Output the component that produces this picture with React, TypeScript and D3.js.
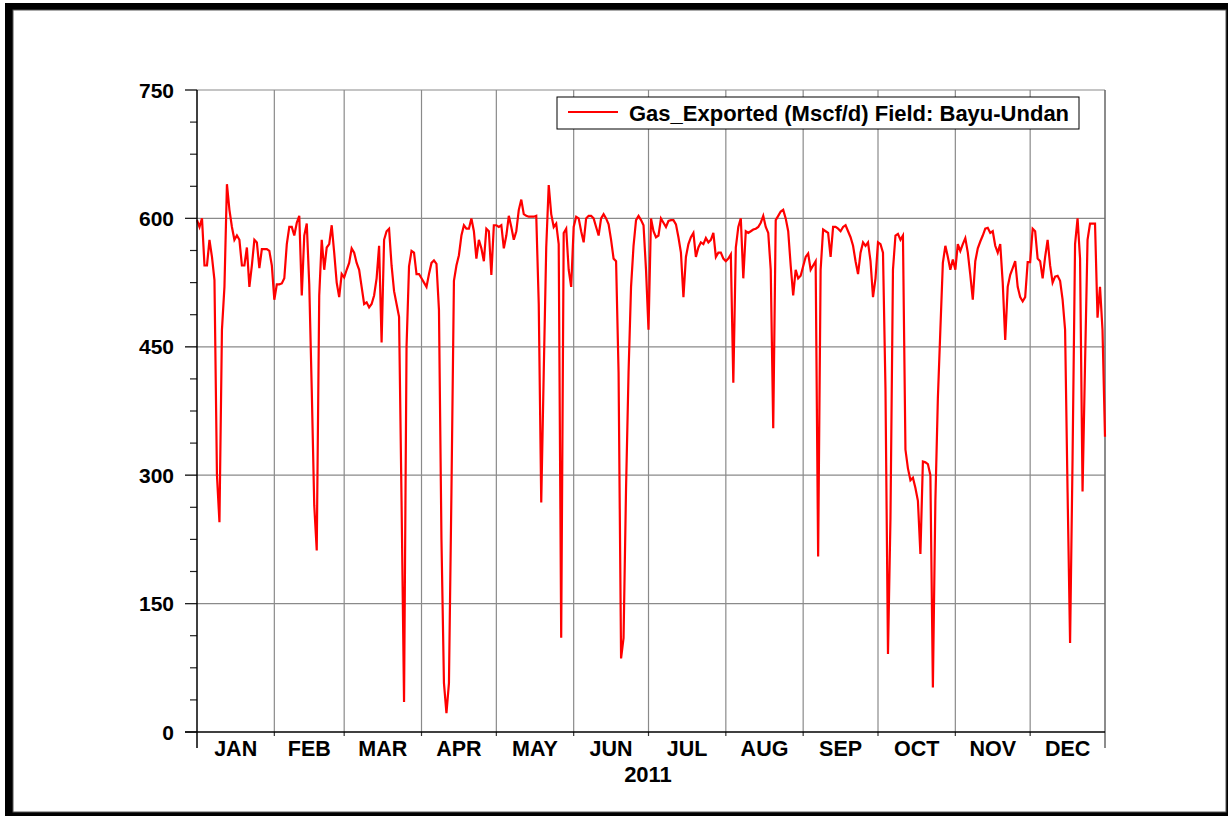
import React from "react";
import * as d3 from "d3";

// Daily Gas_Exported (Mscf/d), 2011
const gasJan = [598, 590, 600, 545, 545, 575, 555, 528, 300, 245, 470, 520, 640, 610, 590, 575, 580, 575, 545, 545, 566, 520, 545, 575, 572, 542, 564, 564, 564, 562, 545];
const gasFeb = [505, 523, 523, 524, 530, 570, 590, 590, 580, 595, 603, 510, 580, 594, 523, 400, 265, 212, 510, 575, 540, 566, 570, 592, 560, 525, 508, 535];
const gasMar = [531, 540, 548, 565, 560, 548, 540, 520, 500, 502, 496, 500, 510, 530, 568, 455, 575, 585, 588, 545, 515, 500, 485, 270, 35, 450, 544, 562, 560, 535, 535];
const gasApr = [530, 525, 520, 535, 548, 551, 547, 493, 225, 57, 22, 57, 280, 527, 545, 557, 580, 592, 588, 588, 600, 585, 553, 575, 565, 550, 588, 585, 534, 592];
const gasMay = [592, 590, 592, 565, 580, 603, 590, 575, 585, 610, 622, 605, 603, 602, 602, 602, 603, 500, 268, 420, 566, 639, 605, 590, 594, 570, 110, 583, 588, 540, 520];
const gasJun = [590, 602, 600, 585, 572, 600, 603, 603, 600, 590, 580, 600, 605, 600, 593, 575, 553, 550, 420, 86, 110, 285, 420, 520, 568, 598, 603, 598, 592, 540];
const gasJul = [470, 600, 585, 578, 580, 600, 595, 590, 597, 598, 598, 593, 578, 560, 508, 555, 570, 578, 583, 555, 566, 572, 570, 577, 572, 575, 583, 555, 560, 560, 553];
const gasAug = [550, 553, 558, 408, 566, 590, 600, 530, 585, 583, 585, 587, 588, 590, 595, 603, 590, 583, 540, 355, 598, 603, 608, 610, 600, 585, 545, 510, 540, 530, 533];
const gasSep = [544, 555, 559, 540, 545, 550, 205, 540, 587, 585, 583, 555, 590, 590, 588, 585, 590, 592, 585, 578, 568, 550, 535, 560, 572, 568, 572, 550, 508, 530];
const gasOct = [572, 570, 560, 400, 91, 250, 540, 580, 582, 575, 580, 330, 308, 294, 297, 285, 270, 208, 316, 315, 313, 300, 52, 270, 390, 470, 548, 568, 555, 540, 552];
const gasNov = [540, 570, 562, 570, 577, 560, 534, 505, 550, 565, 573, 580, 588, 589, 583, 585, 568, 560, 570, 525, 458, 520, 534, 542, 550, 520, 508, 503, 508, 549];
const gasDec = [549, 588, 585, 553, 550, 530, 555, 575, 545, 525, 532, 533, 527, 505, 470, 280, 104, 320, 570, 600, 553, 281, 430, 575, 594, 594, 594, 484, 520, 470, 345];

const monthLabels = ["JAN", "FEB", "MAR", "APR", "MAY", "JUN", "JUL", "AUG", "SEP", "OCT", "NOV", "DEC"];
const yTicks = [0, 150, 300, 450, 600, 750];
const yearLabel = "2011";
const legendLabel = "Gas_Exported (Mscf/d) Field: Bayu-Undan";

const values = [
  ...gasJan, ...gasFeb, ...gasMar, ...gasApr, ...gasMay, ...gasJun,
  ...gasJul, ...gasAug, ...gasSep, ...gasOct, ...gasNov, ...gasDec,
];
const series = values.map((v, i) => ({ date: new Date(2011, 0, 1 + i), value: v }));

const W = 1228;
const H = 816;
const left = 197;
const right = 1105;
const top = 90;
const bottom = 732;
const FONT = "'Liberation Sans', Arial, Helvetica, sans-serif";

export default function App() {
  const start = new Date(2011, 0, 1);
  const end = new Date(2011, 11, 31);
  const x = d3.scaleTime().domain([start, end]).range([left, right]);
  const y = d3.scaleLinear().domain([0, 750]).range([bottom, top]);

  const line = d3
    .line<{ date: Date; value: number }>()
    .x((d) => x(d.date))
    .y((d) => y(d.value));

  const monthStarts = d3.range(12).map((m) => new Date(2011, m, 1));
  const minorTicks = d3.range(0, 750.01, 37.5).filter((v) => v % 150 !== 0);

  return (
    <div style={{ position: "absolute", left: 0, top: 0 }}>
      <svg width={W} height={H} style={{ display: "block" }}>
        {/* frame */}
        <rect x={5} y={3} width={W - 5} height={H - 3} fill="#000" />
        <rect x={13} y={10} width={1213} height={802} fill="#fff" stroke="#555" strokeWidth={1} />

        {/* vertical month grid lines */}
        {monthStarts.slice(1).map((d, i) => (
          <g key={"vg" + i}>
            <line x1={x(d)} x2={x(d)} y1={top} y2={bottom} stroke="#8a8a8a" strokeWidth={1.2} />
            <line x1={x(d)} x2={x(d)} y1={bottom} y2={bottom + 4} stroke="#333" strokeWidth={1.2} />
          </g>
        ))}

        {/* horizontal grid lines */}
        {yTicks.filter((t) => t > 0).map((t) => (
          <line key={"hg" + t} x1={left - 12} x2={right} y1={y(t)} y2={y(t)} stroke="#8a8a8a" strokeWidth={1.2} />
        ))}
        {yTicks.map((t) => (
          <line key={"mt" + t} x1={left - 12} x2={left} y1={y(t)} y2={y(t)} stroke="#222" strokeWidth={1.2} />
        ))}
        {minorTicks.map((t) => (
          <line key={"mn" + t} x1={left - 7} x2={left} y1={y(t)} y2={y(t)} stroke="#222" strokeWidth={1.2} />
        ))}

        {/* right border */}
        <line x1={right} x2={right} y1={top} y2={bottom + 16} stroke="#666" strokeWidth={1.5} />

        {/* data line */}
        <path d={line(series) || ""} fill="none" stroke="#ff0000" strokeWidth={2.2} strokeLinejoin="miter" />

        {/* axes */}
        <line x1={left} x2={left} y1={top} y2={bottom + 16} stroke="#000" strokeWidth={1.5} />
        <line x1={left - 12} x2={right} y1={bottom} y2={bottom} stroke="#000" strokeWidth={1.5} />

        {/* y tick labels */}
        {yTicks.map((t) => (
          <text
            key={"yl" + t}
            x={left - 23}
            y={y(t) + 7.5}
            textAnchor="end"
            fontFamily={FONT}
            fontWeight="bold"
            fontSize={21}
            fill="#000"
          >
            {t}
          </text>
        ))}

        {/* month labels */}
        {monthStarts.map((d, i) => {
          const next = i < 11 ? monthStarts[i + 1] : end;
          const cx = (x(d) + x(next)) / 2;
          return (
            <text
              key={"ml" + i}
              x={cx}
              y={756}
              textAnchor="middle"
              fontFamily={FONT}
              fontWeight="bold"
              fontSize={21.5}
              fill="#000"
            >
              {monthLabels[i]}
            </text>
          );
        })}
        <text x={(left + right) / 2 - 3} y={782} textAnchor="middle" fontFamily={FONT} fontWeight="bold" fontSize={22} fill="#000">
          {yearLabel}
        </text>

        {/* legend */}
        <rect x={557} y={97} width={522} height={32} fill="#fff" stroke="#000" strokeWidth={1} />
        <line x1={568} x2={618} y1={112} y2={112} stroke="#ff0000" strokeWidth={2} />
        <text x={629} y={120.5} fontFamily={FONT} fontWeight="bold" fontSize={22} fill="#000">
          {legendLabel}
        </text>
      </svg>
    </div>
  );
}
